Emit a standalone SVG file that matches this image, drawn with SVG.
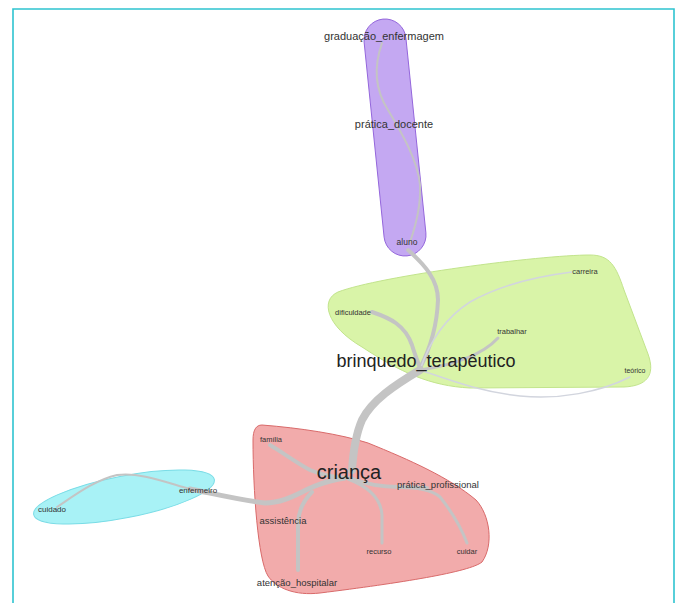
<svg xmlns="http://www.w3.org/2000/svg" width="680" height="603" viewBox="0 0 680 603">
<style>
.lbl{font-family:"Liberation Sans",Arial,sans-serif;fill:#333;text-anchor:middle}
.e{fill:none;stroke:#c4c4c4;stroke-linecap:round}
.thin{fill:none;stroke:#d2d5de;stroke-width:1.5;stroke-linecap:round}
</style>
<rect width="680" height="603" fill="#fff"/>
<path d="M13,606 L13,9 L674,9 L674,606" fill="none" stroke="#2ec4d0" stroke-width="1.6"/>
<g id="hulls">
<path id="hull-purple" d="M364.1,42.1 A21,21 0 0 1 405.9,37.9 L425.9,232.9 A21,21 0 0 1 384.1,237.1 Z" fill="#c4a8f2" stroke="#9466dc" stroke-width="1"/>
<path id="hull-green" d="M338,292 C380,276 540,255 590,255 C610,255 616,266 624,290 L648,354 C656,376 646,386 624,387 L470,388 C430,386 400,372 362,347 C326,326 320,300 338,292 Z" fill="#d9f4a8" stroke="#c2e48c" stroke-width="1"/>
<path id="hull-pink" d="M262,425 C300,428 340,434 368,443 C410,460 450,478 476,500 C490,515 494,545 482,562 C470,572 400,583 320,593 C295,596 276,588 268,576 C258,560 253,490 253,440 C253,430 256,425 262,425 Z" fill="#f2abab" stroke="#d96a6a" stroke-width="1"/>
<ellipse id="hull-cyan" cx="124" cy="497" rx="92" ry="21" transform="rotate(-11 124 497)" fill="#a8f2f6" stroke="#7adce6" stroke-width="1"/>
</g>
<g id="connectors">
<path class="e" stroke-width="2" d="M382,43 C376,60 372,85 388,110 C400,130 418,160 420,185 C421,205 416,225 410,242"/>
<path class="e" stroke-width="4" d="M408,250 C425,265 438,280 438,300 C437,325 432,345 420,368"/>
<path class="e" stroke-width="4" d="M372,312 C390,318 405,325 412,345 C415,355 418,362 420,368"/>
<path class="e" stroke-width="3" d="M498,338 C485,352 460,364 420,370"/>
<path class="thin" d="M572,272 C540,276 500,285 470,302 C445,318 430,340 420,370"/>
<path class="thin" d="M630,377 C600,392 560,400 520,396 C480,392 450,380 420,370"/>
<path class="e" stroke-width="8" d="M420,370 C395,385 372,400 362,420 C355,436 353,455 352,470"/>
<path class="e" stroke-width="4" d="M270,445 C282,452 295,462 310,470 C322,475 332,477 345,478"/>
<path class="e" stroke-width="2" d="M57,507 C75,495 95,480 117,475 C140,472 165,482 190,489"/>
<path class="e" stroke-width="5" d="M190,489 C215,494 240,500 265,503 C285,503 300,492 315,486 C328,481 338,479 345,478"/>
<path class="e" stroke-width="4" d="M298,570 L298,525 C298,510 304,500 312,492"/>
<path class="e" stroke-width="3" d="M382,543 L382,515 C381,500 372,488 348,479"/>
<path class="e" stroke-width="4" d="M350,478 C365,484 380,487 400,487 L427,488"/>
<path class="e" stroke-width="3" d="M467,543 C462,530 452,512 440,497 C432,490 420,488 405,487"/>
</g>
<g id="n-graduacao_enfermagem"><text class="lbl" x="384" y="40" font-size="11">graduação_enfermagem</text></g>
<g id="n-pratica_docente"><text class="lbl" x="394" y="128" font-size="11">prática_docente</text></g>
<g id="n-aluno"><text class="lbl" x="407" y="245" font-size="8.5">aluno</text></g>
<g id="n-dificuldade"><text class="lbl" x="353" y="315" font-size="7.5">dificuldade</text></g>
<g id="n-carreira"><text class="lbl" x="585" y="274" font-size="7.5">carreira</text></g>
<g id="n-trabalhar"><text class="lbl" x="512" y="334" font-size="7.5">trabalhar</text></g>
<g id="n-brinquedo_terapeutico"><text class="lbl" x="426" y="367" font-size="18" style="fill:#222">brinquedo_terapêutico</text></g>
<g id="n-teorico"><text class="lbl" x="635" y="373" font-size="7">teórico</text></g>
<g id="n-familia"><text class="lbl" x="271" y="442" font-size="7.5">família</text></g>
<g id="n-crianca"><text class="lbl" x="349" y="479" font-size="20" style="fill:#222">criança</text></g>
<g id="n-pratica_profissional"><text class="lbl" x="438" y="488" font-size="9.5">prática_profissional</text></g>
<g id="n-enfermeiro"><text class="lbl" x="198" y="493" font-size="8">enfermeiro</text></g>
<g id="n-cuidado"><text class="lbl" x="52" y="512" font-size="8">cuidado</text></g>
<g id="n-assistencia"><text class="lbl" x="283" y="524" font-size="9.5">assistência</text></g>
<g id="n-recurso"><text class="lbl" x="379" y="554" font-size="7.5">recurso</text></g>
<g id="n-cuidar"><text class="lbl" x="467" y="554" font-size="7.5">cuidar</text></g>
<g id="n-atencao_hospitalar"><text class="lbl" x="297" y="586" font-size="9.5">atenção_hospitalar</text></g>
</svg>
